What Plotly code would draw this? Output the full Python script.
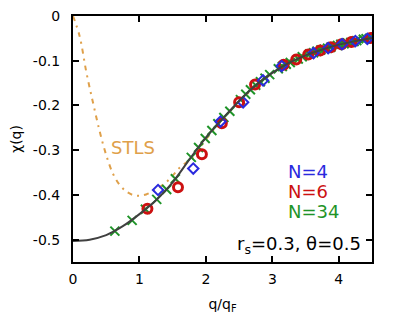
import plotly.graph_objects as go

# theory curve chi(q)
q_theory = [0.0, 0.25, 0.5, 0.75, 1.0, 1.25, 1.5, 1.75, 2.0, 2.25, 2.5,
            2.75, 3.0, 3.25, 3.5, 3.75, 4.0, 4.25, 4.5]
chi_theory = [-0.503, -0.500, -0.490, -0.470, -0.443, -0.412, -0.372, -0.321,
              -0.272, -0.230, -0.190, -0.155, -0.127, -0.105, -0.088, -0.075,
              -0.064, -0.056, -0.049]

# STLS
q_stls = [0.0, 0.1, 0.2, 0.3, 0.4, 0.5, 0.6, 0.7, 0.8, 0.9, 1.0, 1.1, 1.2,
          1.3, 1.4, 1.5, 1.6, 1.7, 1.8, 2.0, 2.5, 3.0, 3.5, 4.0, 4.5]
chi_stls = [0.0, -0.045, -0.125, -0.193, -0.257, -0.311, -0.352, -0.377,
            -0.392, -0.400, -0.402, -0.399, -0.392, -0.383, -0.372, -0.357,
            -0.340, -0.328, -0.318, -0.276, -0.192, -0.128, -0.089, -0.065,
            -0.050]

# N=4
q_n4 = [1.28, 1.81, 2.22, 2.56, 2.86, 3.14, 3.62, 3.84, 4.05, 4.25, 4.43]
chi_n4 = [-0.389, -0.341, -0.236, -0.193, -0.144, -0.112, -0.083, -0.072,
          -0.063, -0.056, -0.051]

# N=6
q_n6 = [1.12, 1.58, 1.94, 2.24, 2.50, 2.74, 3.17, 3.36, 3.54, 3.72, 3.88,
        4.04, 4.19, 4.48]
chi_n6 = [-0.431, -0.383, -0.309, -0.240, -0.193, -0.153, -0.109, -0.097,
          -0.086, -0.077, -0.070, -0.063, -0.058, -0.049]

# N=34
q_n34 = [0.63, 0.89, 1.09, 1.26, 1.41, 1.54, 1.78, 1.89, 1.99, 2.09, 2.18,
         2.27, 2.36, 2.52, 2.60, 2.67, 2.75, 2.82, 2.89, 2.96, 3.09, 3.15,
         3.21, 3.27, 3.39, 3.45, 3.56, 3.62, 3.67, 3.73, 3.78, 3.83, 3.88,
         3.98, 4.03, 4.08, 4.13, 4.18, 4.23, 4.27, 4.37, 4.41, 4.46]
chi_n34 = [-0.481, -0.457, -0.432, -0.410, -0.388, -0.364, -0.316, -0.294,
           -0.274, -0.256, -0.241, -0.227, -0.213, -0.187, -0.175, -0.165,
           -0.155, -0.147, -0.139, -0.131, -0.118, -0.113, -0.108, -0.104,
           -0.096, -0.091, -0.085, -0.082, -0.079, -0.076, -0.074, -0.072,
           -0.070, -0.066, -0.063, -0.062, -0.060, -0.059, -0.057, -0.055,
           -0.052, -0.051, -0.050]

BLUE = "#2a2ade"
RED = "#cc1111"
GREEN = "#1f9428"
ORANGE = "#dfa04a"
FONT = "DejaVu Sans"

fig = go.Figure()
fig.add_trace(go.Scatter(
    x=q_stls, y=chi_stls, mode="lines", line_shape="spline",
    line=dict(color=ORANGE, width=2, dash="5px,5px,2px,5px"),
))
fig.add_trace(go.Scatter(
    x=q_n34, y=chi_n34, mode="markers",
    marker=dict(symbol="x-thin", size=9, line=dict(color=GREEN, width=2)),
))
fig.add_trace(go.Scatter(
    x=q_n6, y=chi_n6, mode="markers",
    marker=dict(symbol="circle-open", size=9, color=RED,
                line=dict(color=RED, width=3)),
))
fig.add_trace(go.Scatter(
    x=q_n4, y=chi_n4, mode="markers",
    marker=dict(symbol="diamond-open", size=8, color=BLUE,
                line=dict(color=BLUE, width=2)),
))
fig.add_trace(go.Scatter(
    x=q_theory, y=chi_theory, mode="lines", line_shape="spline",
    line=dict(color="#404040", width=2),
))

labels = [("N=4", BLUE, -0.347), ("N=6", RED, -0.393), ("N=34", GREEN, -0.436)]
for text, color, yy in labels:
    fig.add_annotation(x=3.20, y=yy, text=text, showarrow=False,
                       xanchor="left", font=dict(size=18, color=color))
fig.add_annotation(x=0.54, y=-0.294, text="STLS", showarrow=False,
                   xanchor="left", font=dict(size=18, color=ORANGE))
fig.add_annotation(x=4.37, y=-0.511, text="r<sub>s</sub>=0.3, θ=0.5",
                   showarrow=False, xanchor="right",
                   font=dict(size=18, color="black"))

axis_common = dict(
    showline=True, linecolor="black", linewidth=2, mirror="ticks",
    ticks="inside", ticklen=6, tickwidth=2, tickcolor="black",
    showgrid=False, zeroline=False, automargin=False,
    ticklabeloverflow="allow",
    tickfont=dict(family=FONT, size=14, color="black"),
    title_font=dict(family=FONT, size=14, color="black"),
)
fig.update_xaxes(range=[0, 4.5], tickvals=[0, 1, 2, 3, 4],
                 title_text="q/q<sub>F</sub>", title_standoff=13,
                 ticklabelstandoff=3, **axis_common)
fig.update_yaxes(range=[-0.55, 0], tickvals=[0, -0.1, -0.2, -0.3, -0.4, -0.5],
                 ticktext=["0", "-0.1", "-0.2", "-0.3", "-0.4", "-0.5"],
                 title_text="χ(q)", title_standoff=8,
                 ticklabelstandoff=8, **axis_common)
# the page body adds an 8px offset, so margins are trimmed on the top/left
fig.update_layout(
    width=399, height=330,
    margin=dict(l=65, r=35, t=8, b=76),
    plot_bgcolor="white", paper_bgcolor="white",
    showlegend=False,
    font=dict(family=FONT),
)
fig.write_html("out.html")
